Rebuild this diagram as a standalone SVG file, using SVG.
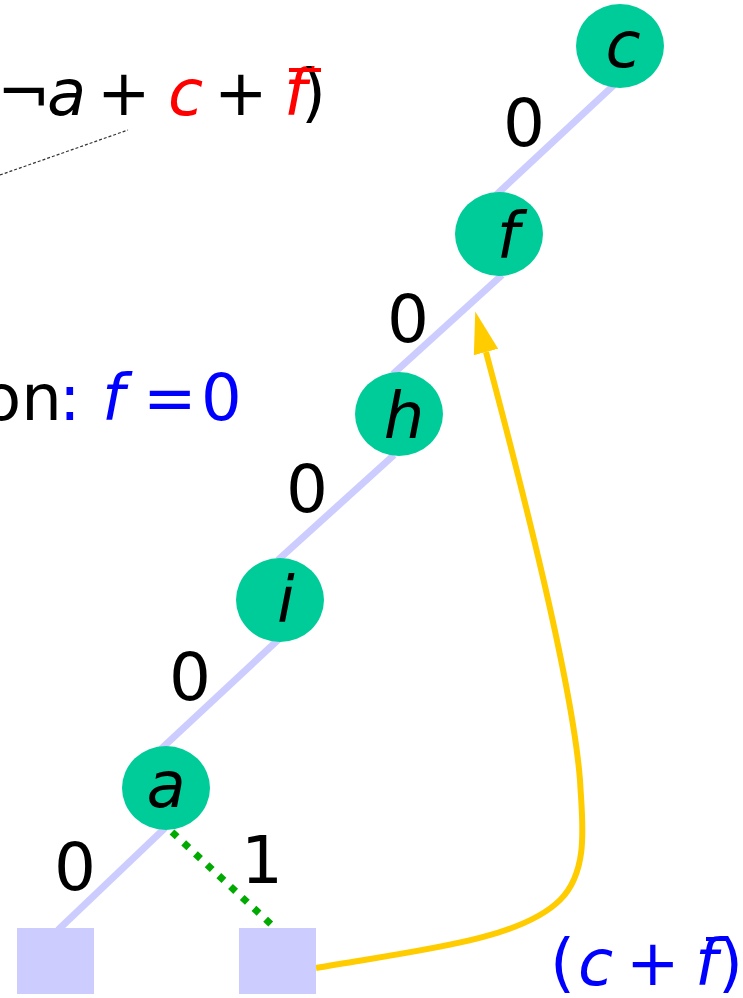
<svg xmlns="http://www.w3.org/2000/svg" width="743" height="998" viewBox="0 0 743 998">
<style>
text{font-family:"DejaVu Sans","Verdana",sans-serif;}
.node{fill:#00cc99;}
.leaf{fill:#ccccff;}
.nl{font-size:64px;font-style:italic;fill:#000;text-anchor:middle;}
.lbl{font-size:66px;fill:#000;text-anchor:middle;}
.edge{stroke:#ccccff;stroke-width:7;fill:none;}
.one{stroke:#00aa00;stroke-width:7;stroke-dasharray:7 9;fill:none;}
.txt{font-size:64px;}
.it{font-style:italic;}
</style>
<defs>
<marker id="arr" markerUnits="userSpaceOnUse" markerWidth="44" markerHeight="26" refX="0" refY="12" orient="auto" viewBox="0 0 42 24">
<path d="M0,0 L40,12 L0,24 Z" fill="#ffcc00"/>
</marker>
</defs>
<g id="formula">
<text class="txt" y="115"><tspan x="-3">¬</tspan><tspan x="47" class="it">a</tspan><tspan x="97">+</tspan><tspan x="168" class="it" fill="#ff0000">c</tspan><tspan x="214">+</tspan><tspan x="284" class="it" fill="#ff0000">f</tspan><tspan x="301">)</tspan></text>
<line x1="289" y1="70" x2="321" y2="70" stroke="#ff0000" stroke-width="4"/>
<line x1="0" y1="175" x2="128" y2="130" stroke="#333" stroke-width="1.2" stroke-dasharray="3 2"/>
</g>
<g id="decision">
<text class="txt" y="420"><tspan x="-18">on</tspan><tspan x="59" fill="#0000ff">:</tspan><tspan x="102" class="it" fill="#0000ff">f</tspan><tspan x="143" fill="#0000ff">=</tspan><tspan x="201" fill="#0000ff">0</tspan></text>
</g>
<g id="connectors">
<line class="edge" x1="614" y1="85" x2="496" y2="195"/>
<line class="edge" x1="502" y1="275" x2="393" y2="374"/>
<line class="edge" x1="394" y1="455" x2="278" y2="560"/>
<line class="edge" x1="279" y1="639" x2="161" y2="749"/>
<line class="edge" x1="165" y1="828" x2="58" y2="930"/>
<line class="one" x1="172" y1="832" x2="275" y2="928"/>
<path d="M316,968 C420,950 520,940 560,900 C590,870 582,820 580,780 C572,680 520,480 486,352" fill="none" stroke="#ffcc00" stroke-width="6" marker-end="url(#arr)"/>
<text class="lbl" x="524" y="146">0</text>
<text class="lbl" x="408" y="342">0</text>
<text class="lbl" x="307" y="512">0</text>
<text class="lbl" x="190" y="700">0</text>
<text class="lbl" x="75" y="890">0</text>
<text class="lbl" x="262" y="883">1</text>
</g>
<g id="node-c"><ellipse class="node" cx="620" cy="46" rx="44" ry="42"/><text class="nl" x="623" y="67">c</text></g>
<g id="node-f"><ellipse class="node" cx="499" cy="234" rx="44" ry="42"/><text class="nl" x="508" y="258">f</text></g>
<g id="node-h"><ellipse class="node" cx="399" cy="414" rx="44" ry="42"/><text class="nl" x="404" y="438">h</text></g>
<g id="node-i"><ellipse class="node" cx="280" cy="600" rx="44" ry="42"/><text class="nl" x="286" y="622">i</text></g>
<g id="node-a"><ellipse class="node" cx="166" cy="788" rx="44" ry="42"/><text class="nl" x="166" y="807">a</text></g>
<g id="leaf-0"><rect class="leaf" x="17" y="928" width="77" height="66"/></g>
<g id="leaf-1"><rect class="leaf" x="239" y="928" width="77" height="66"/></g>
<g id="clause">
<text class="txt" y="985" fill="#0000ff"><tspan x="550">(</tspan><tspan x="578" class="it">c</tspan><tspan x="626">+</tspan><tspan x="695" class="it">f</tspan><tspan x="718">)</tspan></text>
<line x1="706" y1="939" x2="728" y2="939" stroke="#0000ff" stroke-width="4"/>
</g>
</svg>
